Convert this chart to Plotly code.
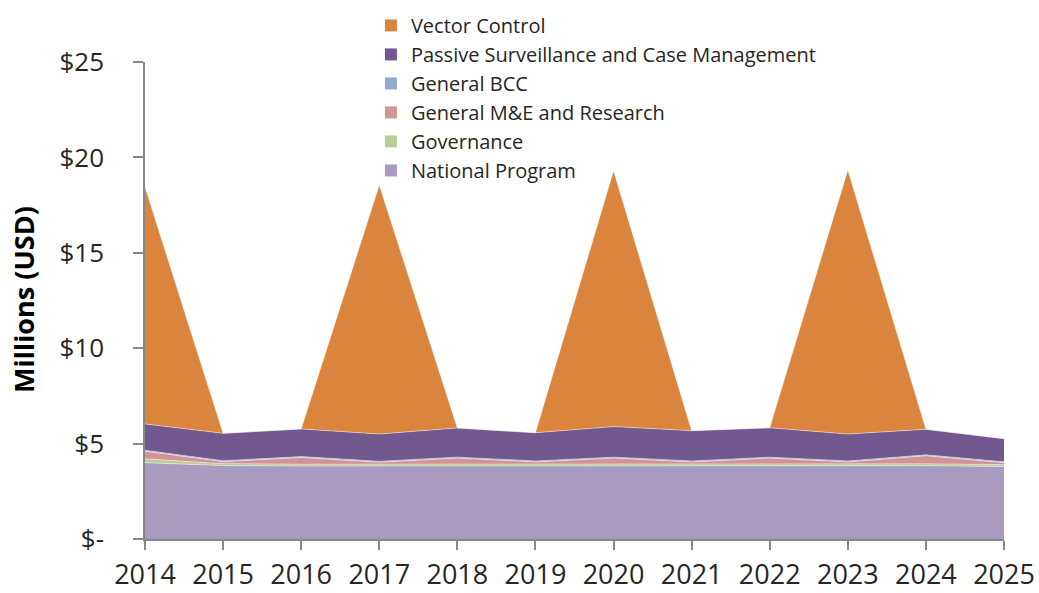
import plotly.graph_objects as go

years = [2014, 2015, 2016, 2017, 2018, 2019, 2020, 2021, 2022, 2023, 2024, 2025]

national_program = [4.00, 3.85, 3.82, 3.82, 3.82, 3.82, 3.82, 3.82, 3.82, 3.82, 3.84, 3.80]
governance = [0.20, 0.10, 0.10, 0.10, 0.10, 0.10, 0.10, 0.10, 0.10, 0.10, 0.10, 0.10]
general_me_research = [0.40, 0.10, 0.35, 0.10, 0.32, 0.12, 0.32, 0.12, 0.32, 0.12, 0.42, 0.10]
general_bcc = [0.05, 0.05, 0.05, 0.05, 0.05, 0.05, 0.05, 0.05, 0.05, 0.05, 0.05, 0.05]
passive_surveillance = [1.38, 1.44, 1.45, 1.43, 1.53, 1.48, 1.60, 1.59, 1.54, 1.41, 1.34, 1.21]
vector_control = [12.42, 0.0, 0.0, 13.05, 0.0, 0.0, 13.41, 0.0, 0.0, 13.84, 0.0, 0.0]

y_tick_values = [0, 5, 10, 15, 20, 25]
y_tick_labels = ["$-", "$5", "$10", "$15", "$20", "$25"]

series = [
    ("National Program", national_program, "#A89BBF"),
    ("Governance", governance, "#B9CD96"),
    ("General M&E and Research", general_me_research, "#D39392"),
    ("General BCC", general_bcc, "#93A9D0"),
    ("Passive Surveillance and Case Management", passive_surveillance, "#71588F"),
    ("Vector Control", vector_control, "#DB843D"),
]

FONT = "Open Sans"

fig = go.Figure()

# stacked areas
for name, values, color in series:
    fig.add_trace(go.Scatter(
        x=years, y=values, name=name, mode="lines",
        stackgroup="budget",
        line=dict(width=0.8, color="rgba(255,255,255,0.55)"),
        fillcolor=color,
        showlegend=False,
        hoverinfo="x+y+name",
    ))

# legend entries with square swatches, top entry = top layer
for name, values, color in reversed(series):
    fig.add_trace(go.Scatter(
        x=[None], y=[None], name=name, mode="markers",
        marker=dict(symbol="square", size=17, color=color),
        showlegend=True,
        legendgroup=name,
    ))

fig.update_layout(
    width=1039, height=593,
    margin=dict(l=145, r=35, t=62, b=54, autoexpand=False),
    paper_bgcolor="white",
    plot_bgcolor="white",
    font=dict(family=FONT, color="#262626"),
    legend=dict(
        xref="container", yref="container",
        x=0.357, y=0.990, xanchor="left", yanchor="top",
        font=dict(size=20, family=FONT, color="#262626"),
        bgcolor="rgba(0,0,0,0)",
        traceorder="normal",
        itemsizing="constant",
        tracegroupgap=0,
    ),
    xaxis=dict(
        range=[2014, 2025], automargin=False,
        tickmode="array", tickvals=years, ticktext=[str(y) for y in years],
        showgrid=False, zeroline=False,
        showline=True, linecolor="#868686", linewidth=1.5,
        ticks="outside", ticklen=9, tickcolor="#868686", tickwidth=1.5,
        tickfont=dict(size=27, family=FONT, color="#262626"),
        ticklabelstandoff=2,
    ),
    yaxis=dict(
        range=[0, 25], automargin=False,
        tickmode="array", tickvals=y_tick_values, ticktext=y_tick_labels,
        showgrid=False, zeroline=False,
        showline=True, linecolor="#868686", linewidth=1.5,
        ticks="outside", ticklen=10, tickcolor="#868686", tickwidth=1.5,
        tickfont=dict(size=26, family=FONT, color="#262626"),
        ticklabelstandoff=24,
    ),
    annotations=[dict(
        text="<b>Millions (USD)</b>", textangle=-90,
        xref="paper", yref="paper", x=-0.142, y=0.501,
        xanchor="center", yanchor="middle", showarrow=False,
        font=dict(size=27, family=FONT, color="#000000"),
    )],
)

fig.write_html("out.html")
